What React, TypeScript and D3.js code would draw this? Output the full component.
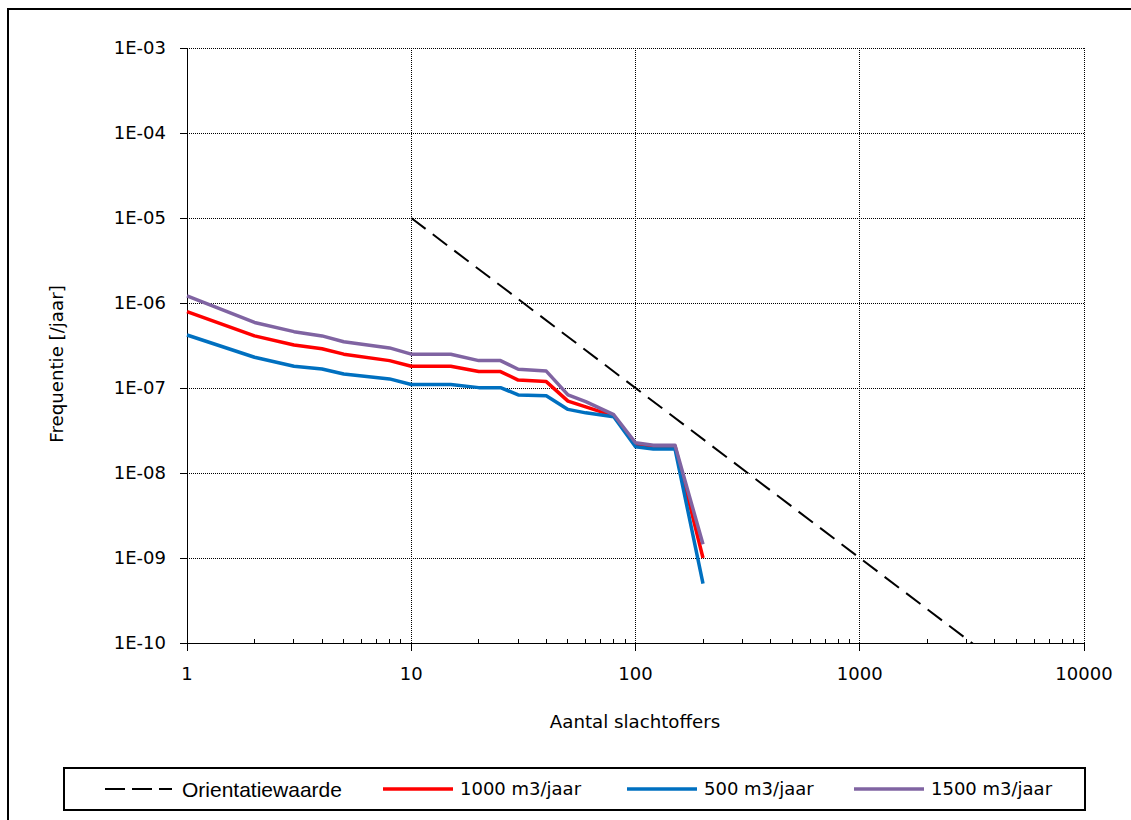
import React from 'react';
import * as d3 from 'd3';

// chart data
const slachtoffers = [1, 2, 3, 4, 5, 8, 10, 15, 20, 25, 30, 40, 50, 60, 80, 100, 120, 150, 200];
const freq1000 = [7.9e-7, 4.1e-7, 3.2e-7, 2.9e-7, 2.5e-7, 2.1e-7, 1.8e-7, 1.8e-7, 1.56e-7, 1.56e-7, 1.24e-7, 1.19e-7, 7.0e-8, 6.0e-8, 4.7e-8, 2.18e-8, 2.08e-8, 2.08e-8, 1.0e-9];
const freq500 = [4.2e-7, 2.3e-7, 1.8e-7, 1.67e-7, 1.46e-7, 1.28e-7, 1.1e-7, 1.1e-7, 1.01e-7, 1.01e-7, 8.3e-8, 8.1e-8, 5.6e-8, 5.1e-8, 4.6e-8, 2.04e-8, 1.92e-8, 1.92e-8, 5.0e-10];
const freq1500 = [1.21e-6, 5.9e-7, 4.6e-7, 4.1e-7, 3.5e-7, 2.96e-7, 2.5e-7, 2.5e-7, 2.1e-7, 2.1e-7, 1.66e-7, 1.58e-7, 8.3e-8, 6.9e-8, 4.85e-8, 2.27e-8, 2.12e-8, 2.12e-8, 1.45e-9];
const orientatieX = [10, 10000];
const orientatieY = [1e-5, 1e-11];
const xTicks = [1, 10, 100, 1000, 10000];
const yTicks = [1e-3, 1e-4, 1e-5, 1e-6, 1e-7, 1e-8, 1e-9, 1e-10];

const series = [
  { name: '1000 m3/jaar', values: freq1000, color: '#ff0000' },
  { name: '500 m3/jaar', values: freq500, color: '#0070c0' },
  { name: '1500 m3/jaar', values: freq1500, color: '#8064a2' },
];

const W = 1131;
const H = 820;
const plot = { left: 187, right: 1084, top: 48, bottom: 643 };

const x = d3.scaleLog().domain([1, 10000]).range([plot.left, plot.right]);
const y = d3.scaleLog().domain([1e-10, 1e-3]).range([plot.bottom, plot.top]);

const line = d3
  .line<[number, number]>()
  .x(d => x(d[0]))
  .y(d => y(d[1]));

const fmtY = (v: number) => `1E-${String(Math.round(-Math.log10(v))).padStart(2, '0')}`;

// minor ticks on the x axis (2..9 per decade)
const minorX: number[] = [];
for (let dec = 1; dec < 10000; dec *= 10) {
  for (let k = 2; k < 10; k++) minorX.push(dec * k);
}

const tickFont = '"DejaVu Sans", Verdana, sans-serif';

export default function App() {
  const legendY = 789;
  return (
    <div style={{ position: 'absolute', left: 0, top: 0 }}>
      <svg width={W} height={H} style={{ display: 'block', background: '#fff' }}>
        <defs>
          <clipPath id="plotClip">
            <rect x={plot.left} y={plot.top} width={plot.right - plot.left} height={plot.bottom - plot.top} />
          </clipPath>
        </defs>

        {/* outer frame */}
        <path d={`M8,${H} L8,9 L${W},9`} fill="none" stroke="#000" strokeWidth={2} />

        {/* gridlines */}
        {yTicks.map(t => (
          <line key={'gy' + t} x1={plot.left} x2={plot.right} y1={y(t)} y2={y(t)}
            stroke="#000" strokeWidth={1} strokeDasharray="1 1" shapeRendering="crispEdges" />
        ))}
        {xTicks.map(t => (
          <line key={'gx' + t} x1={x(t)} x2={x(t)} y1={plot.top} y2={plot.bottom}
            stroke="#000" strokeWidth={1} strokeDasharray="1 1" shapeRendering="crispEdges" />
        ))}

        {/* axes */}
        <line x1={plot.left} x2={plot.left} y1={plot.top} y2={plot.bottom} stroke="#000" strokeWidth={1} shapeRendering="crispEdges" />
        <line x1={plot.left} x2={plot.right} y1={plot.bottom} y2={plot.bottom} stroke="#000" strokeWidth={1} shapeRendering="crispEdges" />
        {yTicks.map(t => (
          <g key={'ty' + t}>
            <line x1={plot.left - 7} x2={plot.left} y1={y(t)} y2={y(t)} stroke="#000" shapeRendering="crispEdges" />
            <text x={166} y={y(t)} dy="0.36em" textAnchor="end" fontFamily={tickFont} fontSize={18} fill="#000">
              {fmtY(t)}
            </text>
          </g>
        ))}
        {xTicks.map(t => (
          <g key={'tx' + t}>
            <line x1={x(t)} x2={x(t)} y1={plot.bottom} y2={plot.bottom + 8} stroke="#000" shapeRendering="crispEdges" />
            <text x={x(t)} y={680} textAnchor="middle" fontFamily={tickFont} fontSize={18} fill="#000">
              {t}
            </text>
          </g>
        ))}
        {minorX.map(t => (
          <line key={'mx' + t} x1={x(t)} x2={x(t)} y1={plot.bottom} y2={plot.bottom - 4} stroke="#000" shapeRendering="crispEdges" />
        ))}

        {/* axis titles */}
        <text x={635} y={728} textAnchor="middle" fontFamily={tickFont} fontSize={18.2} fill="#000">
          Aantal slachtoffers
        </text>
        <text transform="translate(63,364) rotate(-90)" textAnchor="middle" fontFamily={tickFont} fontSize={18.2} fill="#000">
          Frequentie [/jaar]
        </text>

        {/* series */}
        <g clipPath="url(#plotClip)">
          <path d={line(orientatieX.map((v, i) => [v, orientatieY[i]]) as [number, number][]) || ''}
            fill="none" stroke="#000" strokeWidth={2} strokeDasharray="18 9" />
        </g>
        {series.map(s => (
          <path key={s.name} d={line(slachtoffers.map((v, i) => [v, s.values[i]]) as [number, number][]) || ''}
            fill="none" stroke={s.color} strokeWidth={3.5} strokeLinejoin="round" />
        ))}

        {/* legend */}
        <rect x={64} y={768} width={1021} height={42} fill="#fff" stroke="#000" strokeWidth={2} />
        <line x1={105} x2={172} y1={legendY} y2={legendY} stroke="#000" strokeWidth={2} strokeDasharray="20 7" />
        <text x={182} y={legendY} dy="0.36em" fontFamily='"Liberation Sans", Arial, sans-serif' fontSize={21} fill="#000">
          Orientatiewaarde
        </text>
        {series.map((s, i) => {
          const x0 = [383, 627, 854][i];
          return (
            <g key={'lg' + s.name}>
              <line x1={x0} x2={x0 + 70} y1={legendY} y2={legendY} stroke={s.color} strokeWidth={3.5} />
              <text x={x0 + 77} y={legendY} dy="0.36em" fontFamily={tickFont} fontSize={18} fill="#000">
                {s.name}
              </text>
            </g>
          );
        })}
      </svg>
    </div>
  );
}
